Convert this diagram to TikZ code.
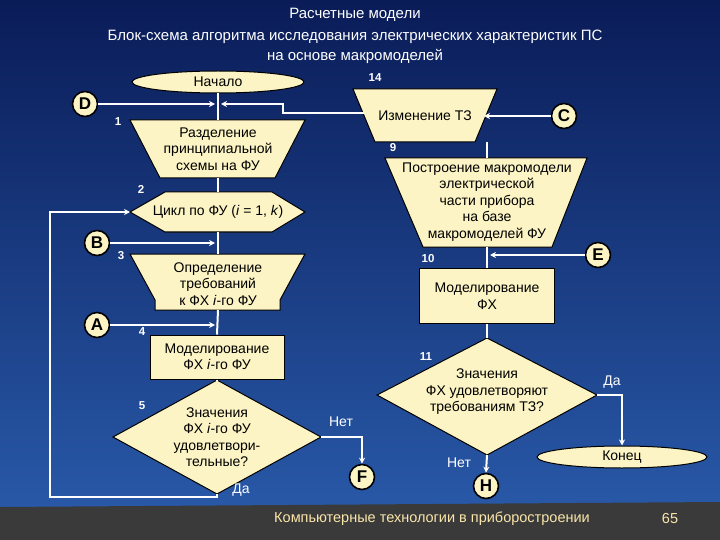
\documentclass[tikz,border=0pt]{standalone}
\usepackage{fontspec}
\setmainfont{Liberation Sans}
\usetikzlibrary{shapes.geometric,arrows.meta}
\definecolor{fillc}{RGB}{252,244,196}
\definecolor{topb}{RGB}{10,28,88}
\definecolor{botb}{RGB}{42,92,172}
\definecolor{foot}{RGB}{58,58,58}
\definecolor{foottxt}{RGB}{250,230,170}
\tikzset{
 shp/.style={draw=black,fill=fillc,line width=1pt},
 txt/.style={font=\fontsize{14}{16.5}\selectfont,align=center,inner sep=0pt},
 conn/.style={draw=white,line width=2pt},
 arr/.style={conn,-{Stealth[length=6pt,width=6pt]}},
 circ/.style={circle,draw=black,fill=fillc,line width=1.6pt,minimum size=25pt,inner sep=0pt,font=\fontsize{17}{17}\selectfont\bfseries},
 num/.style={text=white,font=\fontsize{11.5}{11.5}\selectfont\bfseries,inner sep=0pt},
 lab/.style={text=white,font=\fontsize{14}{16}\selectfont,inner sep=0pt},
 ttl/.style={text=white,font=\fontsize{15}{17}\selectfont,inner sep=0pt}
}
\begin{document}
\begin{tikzpicture}[x=1pt,y=-1pt]
\useasboundingbox (0,0) rectangle (720,540);
\shade[top color=topb,bottom color=botb] (0,0) rectangle (720,540);
\fill[foot] (0,507) -- (720,502) -- (720,540) -- (0,540) -- cycle;
\node[text=foottxt,font=\fontsize{14.5}{16}\selectfont] (ft) at (432,519) {Компьютерные технологии в приборостроении};
\node[text=foottxt,font=\fontsize{14.5}{16}\selectfont] (pg) at (670,519) {65};
\node[ttl] (t1) at (355,15) {Расчетные модели};
\node[ttl] (t2) at (355,37) {Блок-схема алгоритма исследования электрических характеристик ПС};
\node[ttl] (t3) at (355,56) {на основе макромоделей};

\node[shp,ellipse,minimum width=172pt,minimum height=22pt,txt] (start) at (218,82) {Начало};
\draw[shp] (130,120) -- (305,120) -- (275,178) -- (160,178) -- cycle;
\node[txt] (b1) at (218,149) {Разделение\\принципиальной\\схемы на ФУ};
\coordinate (b1top) at (218,120);
\draw[shp] (130,212) -- (165,192) -- (272,192) -- (305,212) -- (272,232) -- (165,232) -- cycle;
\node[txt] (b2) at (218,212) {Цикл по ФУ (\textit{i} = 1, \textit{k})};
\coordinate (b2l) at (130,212);
\draw[shp] (130,254) -- (305,254) -- (280,300) -- (280,310) -- (155,310) -- (155,300) -- cycle;
\node[txt] (b3) at (218,284) {Определение\\требований\\к ФХ \textit{i}-го ФУ};
\node[shp,rectangle,minimum width=134pt,minimum height=44pt,txt] (b4) at (217,357) {Моделирование\\ФХ \textit{i}-го ФУ};
\draw[shp] (217,380) -- (321,437) -- (217,494) -- (113,437) -- cycle;
\node[txt] (b5) at (217,437) {Значения\\ФХ \textit{i}-го ФУ\\удовлетвори-\\тельные?};
\coordinate (b5r) at (321,437);
\coordinate (b5b) at (217,494);

\draw[shp] (353,89) -- (497,89) -- (475,142) -- (375,142) -- cycle;
\node[txt] (b14) at (425,116) {Изменение ТЗ};
\draw[shp] (385,158) -- (587,158) -- (552,247) -- (423,247) -- cycle;
\node[txt] (b9) at (487,202) {Построение макромодели\\электрической\\части прибора\\на базе\\макромоделей ФУ};
\node[shp,rectangle,minimum width=135pt,minimum height=55pt,txt] (b10) at (487,296) {Моделирование\\ФХ};
\draw[shp] (487,338) -- (597,395) -- (487,455) -- (377,395) -- cycle;
\node[txt] (b11) at (487,392) {Значения\\ФХ удовлетворяют\\требованиям ТЗ?};
\coordinate (b11r) at (597,395);
\coordinate (b11b) at (487,455);
\node[shp,ellipse,minimum width=170pt,minimum height=22pt,txt] (end) at (622,457) {Конец};

\node[circ] (D) at (85,104) {D};
\node[circ] (C) at (564,116) {C};
\node[circ] (B) at (97,243) {B};
\node[circ] (A) at (97,325) {A};
\node[circ] (E) at (598,255) {E};
\node[circ] (F) at (362,477) {F};
\node[circ] (H) at (486,486) {H};

\node[num] (n14) at (375,78) {14};
\node[num] (n1) at (118,122) {1};
\node[num] (n2) at (141,189) {2};
\node[num] (n3) at (121,256) {3};
\node[num] (n4) at (142,332) {4};
\node[num] (n5) at (142,406) {5};
\node[num] (n9) at (393,148) {9};
\node[num] (n10) at (428,259) {10};
\node[num] (n11) at (426,357) {11};

\draw[conn] (start.south) -- (b1top);
\draw[arr] (D) -- (215,104);
\coordinate (j14) at (364,113);
\draw[arr] (j14) -- (283,113) -- (283,104) -- (221,104);
\draw[arr] (C) -- (484,116);
\draw[conn] (218,178) -- (218,192);
\draw[conn] (218,232) -- (218,254);
\draw[arr] (B) -- (215,243);
\draw[conn] (218,310) -- (b4.north);
\draw[arr] (A) -- (215,325);
\draw[conn] (b4.south) -- (217,380);
\draw[arr] (b5r) -- (362,437) -- (F.north);
\draw[arr] (b5b) -- (217,497) -- (50,497) -- (50,212) -- (b2l);
\draw[conn] (487,142) -- (487,158);
\draw[conn] (487,247) -- (b10.north);
\draw[arr] (E) -- (490,255);
\draw[conn] (b10.south) -- (487,338);
\draw[arr] (b11r) -- (622,395) -- (end.north);
\draw[arr] (b11b) -- (H.north);
\node[lab] (no5) at (341,422) {Нет};
\node[lab] (yes5) at (241,490) {Да};
\node[lab] (yes11) at (612,382) {Да};
\node[lab] (no11) at (459,463) {Нет};
\end{tikzpicture}
\end{document}
